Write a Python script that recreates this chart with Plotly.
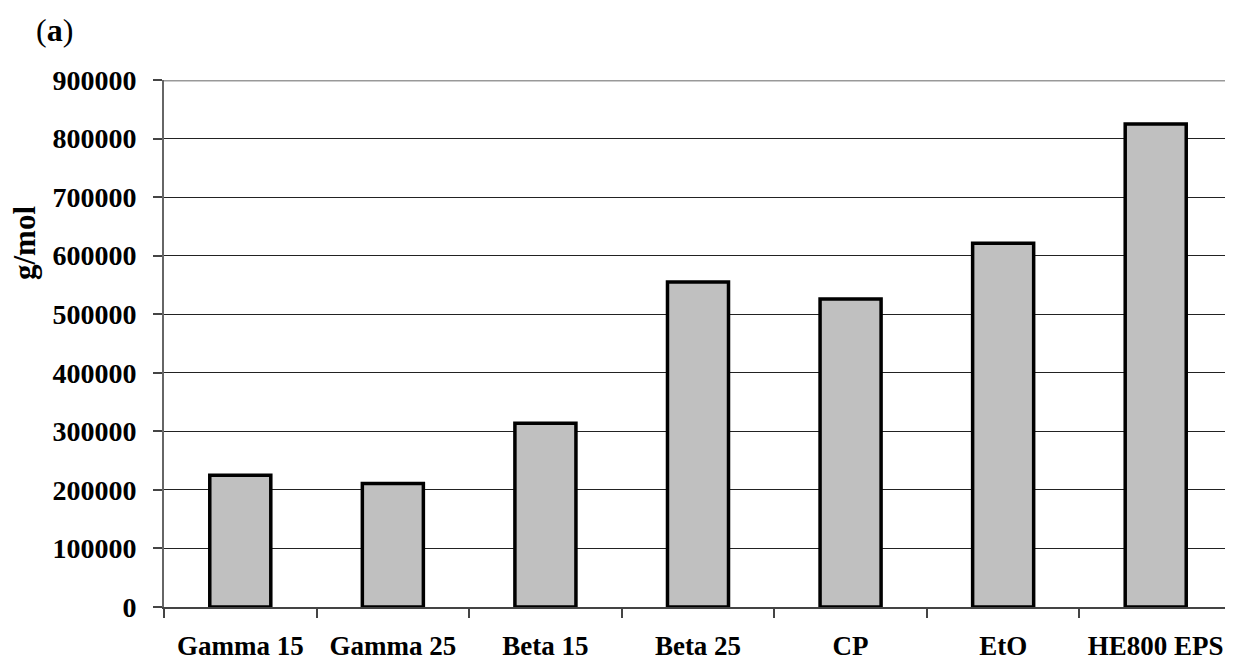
import plotly.graph_objects as go

categories = ["Gamma 15", "Gamma 25", "Beta 15", "Beta 25", "CP", "EtO", "HE800 EPS"]
values = [225000, 211000, 314000, 555000, 526000, 621000, 825000]
y_ticks = [0, 100000, 200000, 300000, 400000, 500000, 600000, 700000, 800000, 900000]
y_ticktext = [str(v) for v in y_ticks]

FONT = "Liberation Serif, Times New Roman, serif"

# page body adds an 8px offset; compensate
OFF = 8
W, H = 1233 - OFF, 663 - OFF
l, r, t, b = 164 - OFF, 1, 80 - OFF, 56
pw, ph = W - l - r, H - t - b


def paper_xy(px, py):
    return (px - OFF - l) / pw, 1 - (py - OFF - t) / ph


fig = go.Figure()
fig.add_trace(go.Bar(
    x=categories, y=values,
    marker=dict(color="#C0C0C0", line=dict(color="black", width=3.5)),
    showlegend=False,
))

ax_a = paper_xy(54, 30)
ax_g = paper_xy(24, 243)

fig.update_layout(
    width=W, height=H, autosize=False,
    margin=dict(l=l, r=r, t=t, b=b, autoexpand=False),
    paper_bgcolor="white", plot_bgcolor="white",
    bargap=0.6,
    font=dict(family=FONT, color="black"),
    xaxis=dict(
        type="category", automargin=False,
        showgrid=False,
        showline=True, linecolor="#444", linewidth=2,
        ticks="outside", tickson="boundaries", ticklen=9, tickcolor="#444", tickwidth=1.5,
        tickfont=dict(family=FONT, size=27, color="black", weight="bold"),
        ticklabelstandoff=14,
        zeroline=False,
    ),
    yaxis=dict(
        range=[0, 900000], automargin=False,
        tickvals=y_ticks, ticktext=y_ticktext,
        showgrid=True, gridcolor="#222", gridwidth=1.2,
        showline=True, linecolor="#666", linewidth=2,
        ticks="outside", ticklen=9, tickcolor="#444", tickwidth=1.5,
        tickfont=dict(family=FONT, size=28, color="black", weight="bold"),
        ticklabelstandoff=11,
        zeroline=False,
    ),
    shapes=[
        dict(type="line", xref="paper", yref="y", x0=0, x1=1, y0=900000, y1=900000,
             line=dict(color="#999", width=3)),
        dict(type="line", xref="paper", yref="paper", x0=1, x1=1, y0=0, y1=1,
             line=dict(color="#ccc", width=1)),
    ],
    annotations=[
        dict(text="(<b>a</b>)", xref="paper", yref="paper", x=ax_a[0], y=ax_a[1],
             xanchor="center", yanchor="middle",
             showarrow=False, font=dict(family=FONT, size=32, color="black")),
        dict(text="<b>g/mol</b>", xref="paper", yref="paper", x=ax_g[0], y=ax_g[1],
             xanchor="center", yanchor="middle", textangle=-90,
             showarrow=False, font=dict(family=FONT, size=31, color="black")),
    ],
)

fig.write_html("out.html")
